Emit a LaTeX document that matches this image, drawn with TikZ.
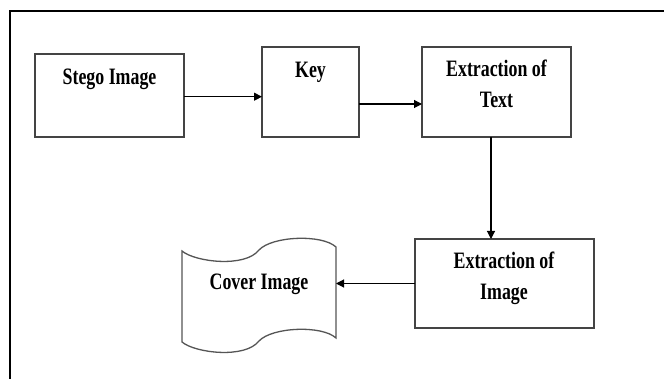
\documentclass[tikz,border=0pt]{standalone}
\usepackage{fontspec}
\setmainfont{Liberation Serif}
\newfontfamily\labfont[FakeStretch=0.76]{Liberation Serif}
\usetikzlibrary{arrows.meta}
\definecolor{boxgray}{HTML}{444444}
\definecolor{shapegray}{HTML}{555555}
\begin{document}
\begin{tikzpicture}[x=1pt,y=-1pt,
 box/.style={draw=boxgray, line width=1.3pt, inner sep=0pt, outer sep=0pt},
 lab/.style={font={\labfont\bfseries\fontsize{23.5}{31.5}\selectfont}, align=center, anchor=base, inner sep=0pt},
 arr/.style={draw=black, line width=1.1pt, -{Triangle[length=8pt,width=8pt]}},
 frameline/.style={line width=2.4pt, black},
 tapeshape/.style={draw=shapegray, line width=1.3pt}]
\useasboundingbox (0,0) rectangle (664,379);
\fill[white] (0,0) rectangle (664,379);
\draw[frameline] (10,379) -- (10,11.3) -- (664,11.3);

\node[box, minimum width=149pt, minimum height=83pt] (stego) at (109.5,95.5) {};
\node[box, minimum width=97pt, minimum height=90pt] (key) at (310.5,92) {};
\node[box, minimum width=149pt, minimum height=90pt] (exttext) at (496.5,92) {};
\node[box, minimum width=179pt, minimum height=89pt] (extimg) at (504.5,283.5) {};

\draw[tapeshape] (182,251) .. controls (195,262) and (245,268) .. (259,250)
  .. controls (272,236) and (322,234) .. (336,247) -- (336,338)
  .. controls (322,325) and (272,327) .. (259,341)
  .. controls (245,359) and (195,353) .. (182,342) -- cycle;
\coordinate (coverE) at (336,283.5);

\node[lab] (stegot) at (109.5,85) {Stego Image};
\node[lab] (keyt) at (310.5,78) {Key};
\node[lab] (exttextt) at (496.5,108) {Extraction of\\Text};
\node[lab] (extimgt) at (504,300) {Extraction of\\Image};
\node[lab] (covert) at (259,290) {Cover Image};

\path ([yshift=-1.2pt]stego.east) coordinate (s1);
\draw[arr] (s1) -- (s1 -| key.west);
\path ([yshift=-12pt]key.east) coordinate (k1);
\draw[arr] (k1) -- (k1 -| exttext.west);
\path ([xshift=-5.5pt]exttext.south) coordinate (t1);
\draw[arr] (t1) -- (t1 |- extimg.north);
\draw[arr] (extimg.west) -- (coverE);
\end{tikzpicture}
\end{document}
